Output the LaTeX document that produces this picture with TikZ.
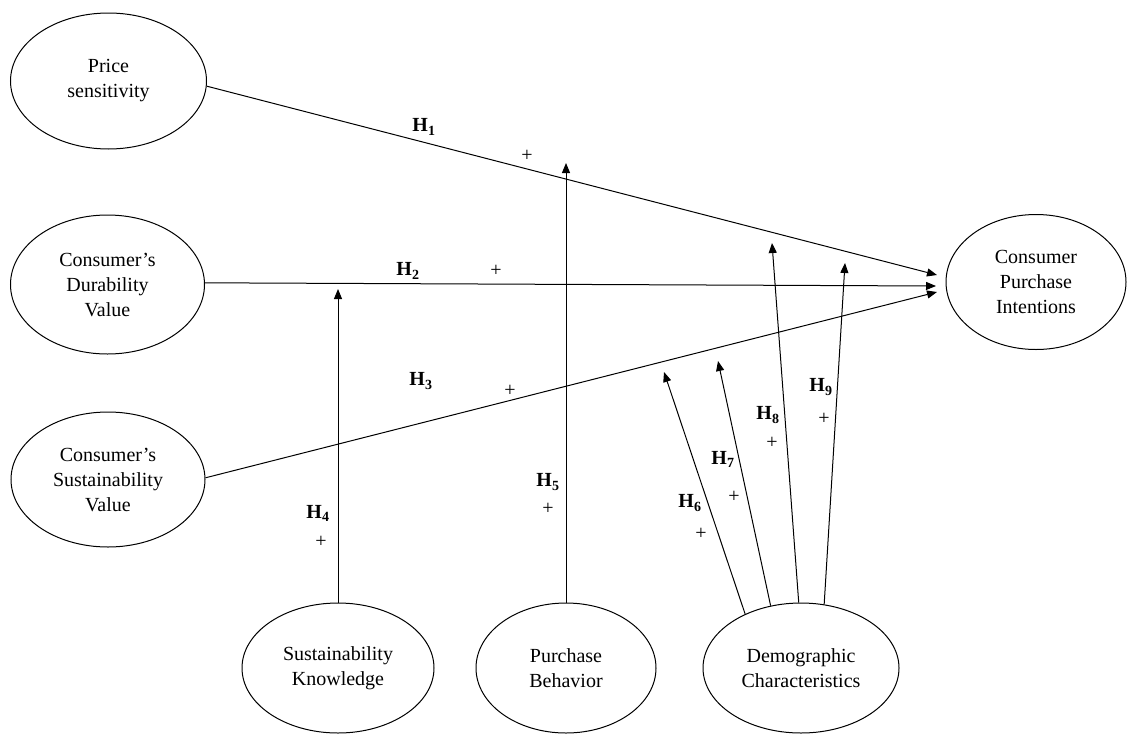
\documentclass[tikz,border=0pt]{standalone}
\usepackage{fontspec}
\setmainfont{Liberation Serif}
\usetikzlibrary{shapes.geometric,arrows.meta}

\tikzset{
  construct/.style={draw, ellipse, line width=1pt, inner sep=0pt, align=center,
    font=\fontsize{20}{25}\selectfont},
  link/.style={line width=1pt, -{Triangle[length=10pt,width=8pt]}},
  hyp/.style={font=\fontsize{20}{25}\selectfont\bfseries, inner sep=0pt},
  sign/.style={font=\fontsize{20}{25}\selectfont, inner sep=0pt}
}

\begin{document}
\begin{tikzpicture}[x=1pt,y=-1pt]
\useasboundingbox (0,0) rectangle (1127,734);

% Constructs on the left
\node[construct, minimum width=196pt, minimum height=136pt] (price) at (108.5,81) {Price\\sensitivity};
\node[construct, minimum width=194pt, minimum height=139pt] (dur) at (107.5,284.5) {Consumer's\\Durability\\Value};
\node[construct, minimum width=194pt, minimum height=135pt] (sust) at (108,479.5) {Consumer's\\Sustainability\\Value};

% Outcome
\node[construct, minimum width=180pt, minimum height=135pt] (cpi) at (1036,282) {Consumer\\Purchase\\Intentions};

% Constructs at the bottom
\node[construct, minimum width=192pt, minimum height=130pt] (sk) at (338,668) {Sustainability\\Knowledge};
\node[construct, minimum width=180pt, minimum height=130pt] (pb) at (566,668) {Purchase\\Behavior};
\node[construct, minimum width=196pt, minimum height=130pt] (dc) at (801,668) {Demographic\\Characteristics};

% Arrow tips
\coordinate (t1) at (937,275);
\coordinate (t2) at (936,286);
\coordinate (t3) at (937,292);
\coordinate (t4) at (338,289);
\coordinate (t5) at (566,163);
\coordinate (t6) at (664,372);
\coordinate (t7) at (718,361);
\coordinate (t8) at (772,243);
\coordinate (t9) at (845,263);

% Direct paths
\draw[link] (price.-3.5) -- (t1);
\draw[link] (dur.1.5) -- (t2);
\draw[link] (sust.1.5) -- (t3);

% Moderating paths
\draw[link] (sk.north) -- (t4);
\draw[link] (pb.north) -- (t5);
\draw[link] (dc.136.4) -- (t6);
\draw[link] (dc.116.7) -- (t7);
\draw[link] (dc.92) -- (t8);
\draw[link] (dc.70) -- (t9);

% Hypotheses
\node[hyp] (h1) at (424,127) {H\textsubscript{1}};
\node[sign] (p1) at (527,156) {+};
\node[hyp] (h2) at (408,271) {H\textsubscript{2}};
\node[sign] (p2) at (496,271) {+};
\node[hyp] (h3) at (421,381) {H\textsubscript{3}};
\node[sign] (p3) at (510,391) {+};
\node[hyp] (h4) at (318,513) {H\textsubscript{4}};
\node[sign] (p4) at (321,542) {+};
\node[hyp] (h5) at (548,482) {H\textsubscript{5}};
\node[sign] (p5) at (548,509) {+};
\node[hyp] (h6) at (690,503) {H\textsubscript{6}};
\node[sign] (p6) at (701,534) {+};
\node[hyp] (h7) at (723,459) {H\textsubscript{7}};
\node[sign] (p7) at (734,497) {+};
\node[hyp] (h8) at (768,415) {H\textsubscript{8}};
\node[sign] (p8) at (772,443) {+};
\node[hyp] (h9) at (821,387) {H\textsubscript{9}};
\node[sign] (p9) at (824,419) {+};
\end{tikzpicture}
\end{document}
